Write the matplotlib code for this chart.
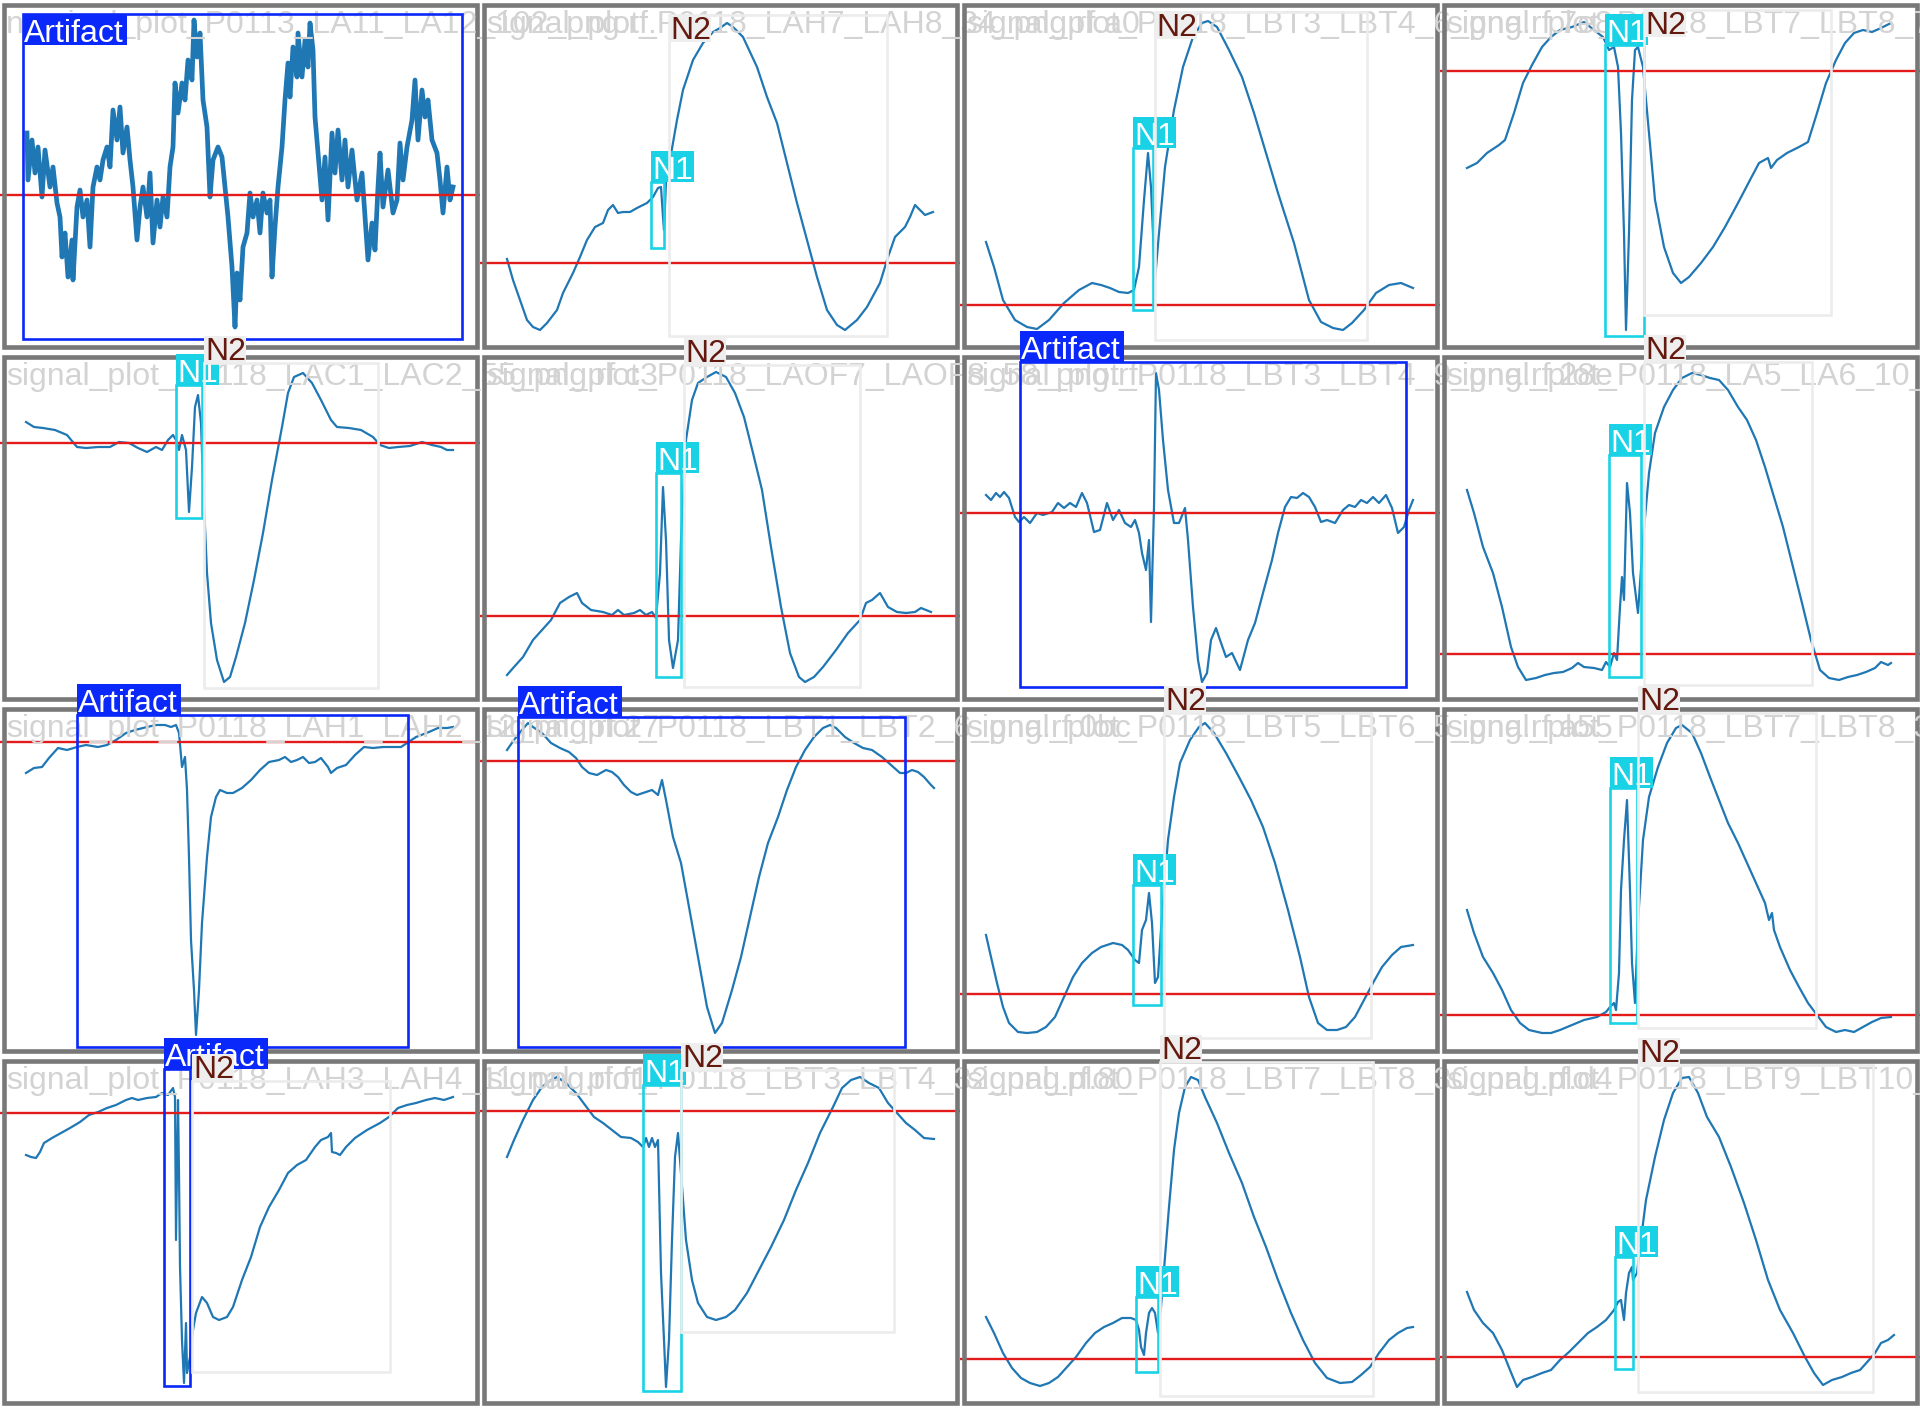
import matplotlib.pyplot as plt
from matplotlib.patches import Rectangle

TILE_W, TILE_H = 480, 352

sig_r0c0 = [(27,133),(28,180),(32,140),(35,173),(38,147),(42,197),(45,150),(50,187),(53,167),(57,203),
            (60,217),(62,257),(65,233),(68,277),(72,240),(73,280),(77,207),(80,190),(83,217),(87,200),
            (90,247),(93,187),(97,167),(100,180),(103,160),(107,147),(110,167),(113,110),(117,140),(120,107),
            (123,153),(127,127),(130,160),(133,187),(137,240),(140,207),(143,187),(147,217),(150,173),(153,243),
            (157,200),(160,227),(163,197),(167,217),(170,167),(173,147),(175,83),(178,113),(182,83),(185,100),
            (188,60),(192,80),(194,20),(197,57),(200,33),(203,100),(207,127),(210,197),(213,160),(218,147),
            (222,157),(225,187),(228,217),(232,267),(235,327),(237,273),(240,300),(243,247),(247,233),(250,193),
            (253,217),(257,200),(260,233),(263,193),(267,213),(270,200),(272,277),(275,227),(278,187),(282,147),
            (285,100),(288,63),(290,97),(293,47),(297,77),(298,33),(302,77),(305,40),(308,67),(310,23),
            (313,50),(315,117),(318,153),(322,200),(325,157),(328,220),(332,133),(335,173),(338,130),(342,180),
            (345,140),(348,187),(352,150),(357,200),(362,173),(365,217),(368,260),(372,223),(375,250),(378,187),
            (380,153),(383,207),(388,170),(393,213),(397,200),(400,143),(403,180),(407,147),(412,120),(415,80),
            (418,140),(422,90),(425,117),(428,100),(432,140),(437,153),(440,180),(443,213),(447,167),(450,200),
            (453,187)]
sig_r0c1 = [(27,259),(33,280),(40,300),(47,320),(53,327),(60,330),(67,323),(77,310),(83,293),(93,273),
            (100,257),(107,240),(115,227),(123,223),(128,210),(133,205),(138,213),(143,212),(150,212),(157,208),
            (167,203),(173,197),(178,188),(181,187),(183,217),(184,230),(186,182),(190,160),(197,120),(203,90),
            (213,60),(223,43),(233,32),(240,28),(247,23),(253,27),(263,37),(277,67),(287,97),(297,123),
            (307,163),(317,203),(327,240),(337,277),(347,310),(357,325),(365,330),(377,320),(387,307),(400,283),
            (408,257),(415,237),(425,227),(430,217),(435,205),(440,210),(445,215),(453,212)]
sig_r0c2 = [(26,242),(34,267),(43,300),(55,320),(67,327),(77,329),(89,320),(104,303),(119,290),(132,283),
            (141,285),(150,288),(159,292),(168,293),(174,290),(179,267),(184,200),(188,153),(191,187),(195,280),
            (199,233),(205,167),(214,110),(223,67),(233,37),(242,23),(248,21),(257,27),(269,50),(282,77),
            (294,113),(306,153),(318,193),(334,243),(349,300),(361,322),(373,328),(383,330),(392,323),(404,310),
            (416,293),(429,285),(441,283),(453,288)]
sig_r0c3 = [(27,168),(37,163),(47,153),(59,145),(65,140),(74,113),(83,83),(92,65),(102,47),(111,37),
            (120,30),(132,27),(144,22),(154,30),(163,37),(169,50),(174,47),(178,67),(181,133),(184,233),
            (186,330),(189,233),(192,100),(195,50),(198,47),(203,67),(209,133),(215,200),(224,247),(233,273),
            (241,283),(249,277),(261,263),(273,247),(285,227),(298,203),(310,180),(319,163),(328,158),(331,168),
            (337,160),(347,153),(359,147),(368,142),(377,113),(386,83),(396,60),(405,43),(414,33),(423,30),
            (432,32),(441,28),(451,23)]
sig_r1c0 = [(26,70),(34,75),(43,76),(55,78),(67,83),(77,95),(86,96),(98,95),(110,95),(119,90),
            (129,91),(138,96),(147,100),(156,95),(162,98),(168,88),(173,83),(176,88),(179,98),(182,83),
            (186,98),(189,160),(192,115),(195,55),(198,43),(201,71),(203,128),(207,221),(211,271),(217,308),
            (224,330),(230,325),(236,305),(245,271),(254,228),(263,181),(272,128),(282,75),(288,41),(294,25),
            (303,21),(312,31),(321,48),(331,68),(337,75),(349,76),(361,78),(373,85),(380,93),(389,96),
            (398,95),(410,94),(422,90),(432,93),(441,95),(447,98),(453,98)]
sig_r1c1 = [(27,323),(34,315),(43,305),(53,288),(62,278),(71,268),(80,251),(89,245),(97,241),(102,251),
            (111,258),(123,260),(132,263),(138,258),(144,263),(154,261),(160,258),(166,263),(172,260),(176,266),
            (180,221),(183,135),(186,188),(189,288),(193,316),(198,288),(201,188),(206,88),(212,48),(218,31),
            (227,25),(236,20),(246,25),(255,41),(264,65),(273,101),(282,138),(291,195),(301,255),(310,301),
            (319,325),(325,330),(334,325),(343,315),(356,298),(368,281),(380,268),(386,251),(392,248),(400,241),
            (408,255),(417,260),(426,261),(435,260),(441,256),(451,260)]
sig_r1c2 = [(26,143),(31,148),(36,141),(40,145),(44,140),(49,146),(55,165),(59,170),(64,165),(70,171),
            (77,161),(83,163),(92,160),(98,151),(104,156),(110,151),(116,155),(122,141),(127,151),(134,180),
            (140,178),(147,151),(153,168),(159,158),(165,171),(171,175),(175,168),(179,181),(182,201),(186,218),
            (189,188),(191,270),(194,155),(196,21),(199,38),(203,88),(208,138),(214,171),(219,171),(225,156),
            (228,188),(233,255),(238,308),(242,330),(247,321),(251,288),(256,276),(260,288),(266,305),(272,301),
            (280,318),(288,288),(295,271),(303,241),(312,208),(318,181),(325,155),(331,145),(337,146),(343,141),
            (349,145),(355,155),(361,170),(367,168),(375,171),(383,158),(389,153),(395,155),(401,148),(407,151),
            (413,145),(419,151),(426,143),(432,156),(438,181),(444,175),(449,158),(453,148)]
sig_r1c3 = [(27,138),(34,161),(43,195),(53,221),(62,255),(71,295),(78,315),(86,328),(96,326),(105,323),
            (114,321),(123,320),(132,316),(138,311),(144,315),(154,316),(162,318),(166,310),(170,315),(174,301),
            (177,308),(180,255),(182,225),(184,248),(187,131),(190,161),(193,221),(198,261),(203,188),(209,121),
            (215,81),(224,55),(233,38),(242,26),(252,21),(261,23),(270,26),(279,28),(288,38),(298,55),
            (307,68),(316,88),(325,115),(334,145),(343,175),(353,215),(362,251),(371,288),(380,318),(389,326),
            (399,328),(408,325),(417,323),(426,320),(435,316),(441,310),(448,313),(451,311)]
sig_r2c0 = [(26,69),(34,64),(42,63),(49,54),(58,44),(67,46),(77,43),(86,41),(98,43),(107,41),
            (116,36),(126,29),(135,26),(147,23),(156,21),(165,21),(171,23),(176,21),(179,29),(182,63),
            (185,53),(187,86),(189,153),(191,236),(194,286),(196,331),(199,286),(202,219),(207,153),(211,113),
            (216,93),(220,86),(227,89),(233,89),(242,84),(251,76),(260,66),(269,58),(279,56),(285,53),
            (291,58),(297,56),(303,53),(309,59),(315,58),(321,54),(328,63),(331,69),(337,64),(346,61),
            (355,51),(364,43),(373,44),(383,43),(392,43),(401,43),(407,39),(416,33),(429,28),(438,24),
            (447,24),(453,23)]
sig_r2c1 = [(27,46),(34,36),(42,26),(48,19),(53,23),(62,29),(71,39),(80,44),(89,48),(96,54),
            (102,63),(109,69),(117,71),(126,66),(132,68),(138,73),(144,81),(151,88),(157,91),(166,88),
            (172,86),(178,91),(182,76),(186,96),(193,133),(201,159),(209,203),(218,253),(227,303),(235,329),
            (242,319),(252,286),(261,253),(270,213),(279,173),(288,139),(298,113),(307,86),(316,63),(325,46),
            (334,33),(343,24),(350,21),(356,24),(365,33),(374,39),(383,44),(392,46),(402,53),(411,61),
            (420,69),(426,69),(432,66),(438,68),(444,73),(451,81),(454,84)]
sig_r2c2 = [(26,231),(31,253),(37,279),(43,303),(49,319),(58,328),(67,329),(77,328),(86,323),(95,313),
            (104,293),(113,273),(122,259),(132,249),(141,243),(153,239),(162,241),(168,246),(175,256),(179,259),
            (182,226),(186,216),(189,189),(192,219),(195,279),(198,273),(201,226),(204,186),(208,136),(214,93),
            (220,59),(230,36),(239,23),(245,19),(254,29),(266,49),(279,73),(291,96),(303,123),(315,159),
            (328,206),(340,253),(349,293),(358,319),(367,326),(377,326),(386,323),(395,313),(404,296),(413,279),
            (422,263),(432,251),(441,243),(453,241)]
sig_r2c3 = [(27,206),(34,229),(43,253),(53,269),(62,286),(71,306),(80,319),(89,326),(102,329),(111,329),
            (120,326),(132,321),(144,316),(157,313),(166,308),(170,303),(174,299),(176,306),(179,269),(181,186),
            (184,136),(187,96),(190,186),(192,259),(195,299),(198,219),(203,136),(209,93),(218,63),(227,39),
            (236,24),(242,21),(252,29),(261,49),(270,73),(279,96),(288,119),(298,139),(307,159),(316,179),
            (325,199),(329,216),(332,209),(334,226),(340,243),(350,266),(359,283),(368,299),(377,311),(386,323),
            (396,328),(405,326),(414,328),(423,323),(432,318),(441,314),(451,313)]
sig_r3c0 = [(26,99),(31,101),(36,102),(40,96),(44,87),(52,82),(61,77),(70,72),(80,66),(89,59),
            (98,56),(107,52),(116,49),(126,44),(132,42),(138,44),(147,42),(156,41),(162,37),(168,39),
            (173,32),(175,41),(176,184),(178,44),(179,117),(180,211),(182,284),(184,327),(186,267),(187,317),
            (190,301),(193,274),(196,257),(202,241),(207,247),(213,261),(219,264),(227,261),(233,251),(242,224),
            (251,201),(260,171),(269,151),(279,134),(288,117),(297,109),(306,104),(315,91),(321,84),(328,81),
            (331,77),(332,96),(336,97),(340,99),(346,91),(355,82),(367,74),(380,67),(389,61),(398,52),
            (407,49),(416,47),(426,44),(435,42),(444,44),(453,41)]
sig_r3c1 = [(27,101),(34,84),(43,64),(53,44),(62,31),(71,24),(77,21),(86,27),(96,37),(105,49),
            (114,61),(123,67),(132,74),(141,81),(151,82),(158,86),(163,91),(166,82),(169,91),(172,82),
            (175,91),(178,84),(181,217),(184,284),(186,331),(189,284),(192,184),(195,101),(198,77),(201,117),
            (206,184),(212,224),(218,247),(227,261),(236,264),(246,261),(255,254),(267,237),(279,214),(291,191),
            (304,164),(316,134),(328,107),(340,77),(353,51),(362,32),(371,24),(380,21),(389,27),(399,32),
            (408,47),(417,57),(426,67),(435,74),(444,82),(454,83)]
sig_r3c2 = [(26,261),(34,277),(43,297),(52,312),(61,322),(70,327),(80,330),(89,327),(98,321),(107,311),
            (116,301),(126,287),(135,277),(144,271),(153,267),(162,262),(171,262),(176,264),(179,274),(181,291),
            (184,299),(186,277),(189,257),(192,252),(195,257),(198,277),(201,251),(205,201),(209,151),(214,94),
            (219,57),(225,31),(231,21),(238,24),(245,41),(257,67),(269,97),(282,127),(294,161),(306,191),
            (318,224),(331,257),(343,284),(355,307),(367,322),(380,327),(392,326),(401,319),(410,311),(419,297),
            (429,284),(438,277),(447,272),(453,271)]
sig_r3c3 = [(27,236),(34,254),(43,267),(53,277),(62,294),(70,314),(77,331),(83,324),(92,321),(102,317),
            (111,314),(120,304),(129,296),(138,287),(148,277),(157,271),(166,264),(174,254),(178,246),(181,244),
            (184,264),(186,237),(189,217),(192,211),(193,224),(197,217),(200,191),(206,144),(215,101),(224,64),
            (233,37),(242,22),(249,21),(258,37),(267,61),(279,81),(291,111),(304,147),(316,184),(328,224),
            (340,254),(353,277),(365,301),(374,317),(383,329),(392,324),(402,321),(411,317),(420,314),(429,304),
            (435,297),(441,287),(448,284),(454,279)]

signals = [[sig_r0c0, sig_r0c1, sig_r0c2, sig_r0c3],
           [sig_r1c0, sig_r1c1, sig_r1c2, sig_r1c3],
           [sig_r2c0, sig_r2c1, sig_r2c2, sig_r2c3],
           [sig_r3c0, sig_r3c1, sig_r3c2, sig_r3c3]]

# red threshold line height per tile
red_levels = [[195, 263, 305, 71],
              [91, 264, 161, 302],
              [38, 57, 290, 311],
              [57, 55, 303, 301]]

# file names as printed on the mosaic (first 40 characters)
file_names = [
    ["nominal_plot_P0113_LA11_LA12_102_png.rf.",
     "signal_plot_P0118_LAH7_LAH8_34_png.rf.a0",
     "signal_plot_P0118_LBT3_LBT4_6_png.rf.7e8",
     "signal_plot_P0118_LBT7_LBT8_71_png.rf.2b"],
    ["signal_plot_P0118_LAC1_LAC2_55_png.rf.c3",
     "signal_plot_P0118_LAOF7_LAOF8_58_png.rf.",
     "signal_plot_P0118_LBT3_LBT4_9_png.rf.28e",
     "signal_plot_P0118_LA5_LA6_10_png.rf.12ab"],
    ["signal_plot_P0118_LAH1_LAH2_12_png.rf.27",
     "signal_plot_P0118_LBT1_LBT2_6_png.rf.0bc",
     "signal_plot_P0118_LBT5_LBT6_5_png.rf.a55",
     "signal_plot_P0118_LBT7_LBT8_3_png.rf.d1e"],
    ["signal_plot_P0118_LAH3_LAH4_11_png.rf.f1",
     "signal_plot_P0118_LBT3_LBT4_32_png.rf.80",
     "signal_plot_P0118_LBT7_LBT8_30_png.rf.d4",
     "signal_plot_P0118_LBT9_LBT10_1_png.rf.6c"],
]

# detections per tile: (class, x0, y0, x1, y1) in tile pixels
boxes = [
    [[("Artifact", 23, 14, 462, 339)],
     [("N1", 171, 182, 184, 248), ("N2", 189, 15, 407, 336)],
     [("N1", 173, 148, 193, 310), ("N2", 195, 12, 407, 340)],
     [("N1", 165, 45, 204, 336), ("N2", 204, 10, 391, 315)]],
    [[("N1", 176, 33, 202, 166), ("N2", 204, 11, 378, 336)],
     [("N1", 176, 121, 201, 325), ("N2", 204, 13, 380, 335)],
     [("Artifact", 60, 10, 446, 335)],
     [("N1", 169, 103, 201, 325), ("N2", 204, 10, 372, 333)]],
    [[("Artifact", 77, 11, 408, 343)],
     [("Artifact", 38, 13, 425, 343)],
     [("N1", 173, 181, 201, 301), ("N2", 204, 9, 411, 334)],
     [("N1", 170, 84, 197, 319), ("N2", 198, 9, 376, 324)]],
    [[("Artifact", 164, 13, 190, 330), ("N2", 192, 25, 390, 316)],
     [("N1", 163, 29, 201, 335), ("N2", 201, 14, 414, 276)],
     [("N1", 176, 241, 198, 316), ("N2", 200, 6, 413, 340)],
     [("N1", 175, 201, 193, 313), ("N2", 198, 9, 433, 336)]],
]

STYLE = {
    "Artifact": dict(edge="#0a28fa", face="#0a28fa", txt="white", w=104, h=31),
    "N1": dict(edge="#1ad2e6", face="#1ad2e6", txt="white", w=43, h=31),
    "N2": dict(edge="#ececec", face="#eeeeee", txt="#64190f", w=42, h=27),
}
FONT = "Liberation Sans"

fig = plt.figure(figsize=(19.2, 14.08), dpi=100, facecolor="white")

# the plotted signal images
for r in range(4):
    for c in range(4):
        ax = fig.add_axes([c * 0.25, 1 - (r + 1) * 0.25, 0.25, 0.25])
        ax.set_xlim(0, TILE_W)
        ax.set_ylim(TILE_H, 0)
        ax.axis("off")
        xs = [p[0] for p in signals[r][c]]
        ys = [p[1] for p in signals[r][c]]
        ax.plot(xs, ys, color="#1f77b4", lw=3.4 if (r, c) == (0, 0) else 1.6, solid_joinstyle="round")
        ax.axhline(red_levels[r][c], color="#e31b1b", lw=1.7)

# annotation layer on top of the mosaic
ov = fig.add_axes([0, 0, 1, 1], zorder=10)
ov.set_xlim(0, 4 * TILE_W)
ov.set_ylim(4 * TILE_H, 0)
ov.axis("off")
ov.patch.set_alpha(0)

z = 1
for r in range(4):
    for c in range(4):
        tx, ty = c * TILE_W, r * TILE_H
        ov.add_patch(Rectangle((tx + 4, ty + 5), TILE_W - 7.5, TILE_H - 10, fill=False,
                               edgecolor="#787878", lw=3.3, zorder=z))
        z += 1
        ov.text(tx + 6, ty + 33, file_names[r][c], fontsize=23, family=FONT,
                color="#d3d3d3", va="baseline", ha="left", zorder=z)
        z += 1
        for cls, x0, y0, x1, y1 in boxes[r][c]:
            st = STYLE[cls]
            ov.add_patch(Rectangle((tx + x0, ty + y0), x1 - x0, y1 - y0, fill=False,
                                   edgecolor=st["edge"], lw=1.9, zorder=z))
            z += 1
            top = ty + y0
            if top >= st["h"]:
                lab_top = top - st["h"]
            else:
                lab_top = top
            ov.add_patch(Rectangle((tx + x0, lab_top), st["w"], st["h"], facecolor=st["face"],
                                   edgecolor="none", zorder=z))
            z += 1
            ov.text(tx + x0 + 1, lab_top + st["h"] - 3, cls, fontsize=23, family=FONT,
                    color=st["txt"], va="baseline", ha="left", zorder=z)
            z += 1

fig.savefig("out.png", dpi=100, facecolor="white")
